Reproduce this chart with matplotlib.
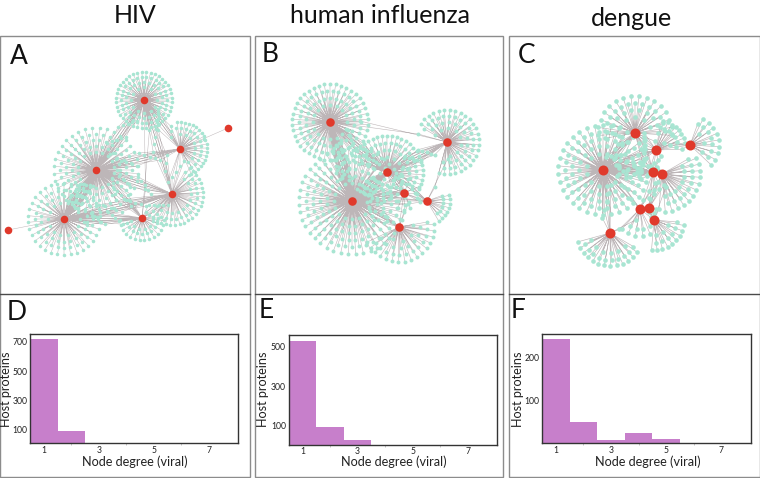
import matplotlib
matplotlib.use("Agg")
import matplotlib.pyplot as plt
from matplotlib.patches import Rectangle
import numpy as np

plt.rcParams["font.family"] = ["Lato", "DejaVu Sans"]

# histogram values
degrees = [1, 2, 3, 4, 5, 6, 7]
hiv_counts = [720, 95, 0, 0, 0, 0, 0]
flu_counts = [532, 90, 24, 2, 1, 1, 0]
dengue_counts = [242, 51, 10, 26, 12, 2, 1]

hist_ylims = [(10, 753), (2, 560), (1.5, 254)]
hist_yticks = [[100, 300, 500, 700], [100, 300, 500], [100, 200]]

# networks: hub position in picture pixels, then leaf rings for each hub.
# ring radii, leaf counts and arc spans are estimates; the leaves themselves
# are spaced evenly on those rings, they are not measured one by one
a_hub_x = [144, 180, 96, 172, 142, 64, 228, 8]
a_hub_y = [100, 149, 170, 194, 218, 219, 128, 230]
a_radii = [[28, 23, 18, 13], [27, 21, 15], [42, 36, 30, 24, 18], [31, 25, 19], [22, 16, 11], [36, 29, 23, 16], [], []]
a_counts = [[40, 30, 22, 12], [20, 13, 8], [36, 32, 28, 24, 18], [24, 18, 12], [14, 10, 6], [34, 28, 22, 14], [], []]
a_arcs = [(0, 360), (-70, 100), (0, 360), (-150, 60), (180, 360), (0, 360), (0, 0), (0, 0)]
a_bridges = [(0, 2, 12), (0, 1, 8), (0, 3, 8), (0, 4, 2), (1, 2, 10), (1, 3, 5), (2, 3, 10),
             (2, 4, 8), (2, 5, 22), (3, 5, 12), (3, 4, 6), (4, 5, 12), (1, 6, 1), (5, 7, 1)]

b_hub_x = [330, 447, 387, 352, 404, 427, 399]
b_hub_y = [122, 142, 172, 201, 193, 201, 227]
b_radii = [[38, 31, 24, 17], [32, 26, 20, 14], [36, 29, 22, 15], [53, 46, 39, 32, 25, 18], [16], [23, 16], [35, 28, 21, 14]]
b_counts = [[42, 34, 26, 16], [26, 20, 14, 8], [26, 20, 14, 8], [44, 40, 36, 30, 24, 16], [8], [8, 6], [16, 12, 8, 4]]
b_arcs = [(0, 360), (-110, 150), (-40, 165), (0, 360), (0, 360), (-65, 20), (200, 370)]
b_bridges = [(0, 3, 22), (0, 2, 10), (0, 1, 2), (1, 2, 12), (2, 3, 20), (2, 4, 8), (3, 4, 8),
             (3, 6, 8), (4, 5, 4), (4, 6, 3), (2, 5, 3), (1, 5, 2), (3, 5, 4)]

c_hub_x = [603, 635, 656, 690, 653, 662, 640, 649, 654, 610]
c_hub_y = [170, 133, 150, 145, 172, 174, 209, 208, 220, 233]
c_radii = [[45, 38, 31, 24, 17], [37, 30, 23, 16], [30, 23], [29, 22, 14], [14], [38, 30, 22], [27, 20], [], [30, 23, 15], [33, 27, 20]]
c_counts = [[34, 30, 24, 18, 12], [16, 14, 10, 6], [8, 6], [9, 7, 3], [6], [12, 10, 8], [5, 4], [], [9, 6, 3], [13, 10, 6]]
c_arcs = [(0, 360), (-10, 190), (10, 80), (-50, 70), (120, 220), (-90, 30), (220, 300), (0, 0), (260, 355), (190, 330)]
c_bridges = [(0, 1, 8), (0, 4, 8), (0, 2, 6), (1, 2, 6), (1, 4, 5), (2, 4, 4), (2, 3, 4), (4, 5, 3), (0, 5, 4),
             (5, 7, 4), (4, 7, 3), (0, 6, 3), (0, 9, 5), (6, 8, 3), (7, 8, 3), (6, 9, 2), (5, 8, 2), (4, 6, 3)]

titles = ["HIV", "human influenza", "dengue"]
title_x = [135, 380, 631]
title_y = [15, 15, 18]
letters = ["A", "B", "C", "D", "E", "F"]
letter_x = [10, 262, 518, 7, 259, 511]
letter_y = [56, 54, 55, 313, 311, 310]

LEAF = "#A8E5D2"
HUB = "#E0392B"
EDGE = "#BDB6B8"
BAR = "#C77FCB"


def draw_network(ax, hub_x, hub_y, radii, counts, arcs, bridges, leaf_size, hub_size, lw):
    seg_x, seg_y, leaf_x, leaf_y = [], [], [], []
    for i in range(len(hub_x)):
        start, end = arcs[i]
        for k, (r, n) in enumerate(zip(radii[i], counts[i])):
            step = (end - start) / n
            ang = np.radians(start + step * (np.arange(n) + 0.5 * (1 + k % 2)))
            xs = hub_x[i] + r * np.cos(ang)
            ys = hub_y[i] - r * np.sin(ang)
            leaf_x.extend(xs)
            leaf_y.extend(ys)
            for x, y in zip(xs, ys):
                seg_x += [hub_x[i], x, np.nan]
                seg_y += [hub_y[i], y, np.nan]

    # proteins shared by two hubs sit between them
    for a, b, n in bridges:
        dx, dy = hub_x[b] - hub_x[a], hub_y[b] - hub_y[a]
        length = np.hypot(dx, dy)
        for k in range(n):
            t = 0.5 if n == 1 else 0.25 + 0.5 * k / (n - 1)
            off = 0 if n == 1 else (k % 5 - 2) * 3
            x = hub_x[a] + t * dx - off * dy / length
            y = hub_y[a] + t * dy + off * dx / length
            leaf_x.append(x)
            leaf_y.append(y)
            seg_x += [hub_x[a], x, hub_x[b], np.nan]
            seg_y += [hub_y[a], y, hub_y[b], np.nan]

    ax.plot(seg_x, seg_y, color=EDGE, lw=lw, zorder=2)
    ax.scatter(leaf_x, leaf_y, s=leaf_size, color=LEAF, linewidths=0, zorder=3)
    ax.scatter(hub_x, hub_y, s=hub_size, color=HUB, linewidths=0, zorder=4)


fig = plt.figure(figsize=(7.6, 4.78), dpi=100)

# overlay in picture pixels for frames, networks and big letters
bg = fig.add_axes([0, 0, 1, 1])
bg.set_xlim(0, 760)
bg.set_ylim(478, 0)
bg.axis("off")

for x0, x1 in [(0, 249.5), (255, 503), (509, 760)]:
    bg.add_patch(Rectangle((x0, 36), x1 - x0, 441, fill=False, ec="#8C8C8C", lw=1))
    bg.plot([x0, x1], [294, 294], color="#4A4A4A", lw=1)

draw_network(bg, a_hub_x, a_hub_y, a_radii, a_counts, a_arcs, a_bridges, 6.5, 30, 0.35)
draw_network(bg, b_hub_x, b_hub_y, b_radii, b_counts, b_arcs, b_bridges, 8, 38, 0.4)
draw_network(bg, c_hub_x, c_hub_y, c_radii, c_counts, c_arcs, c_bridges, 11, 52, 0.45)

for t, x, y in zip(titles, title_x, title_y):
    bg.text(x, y, t, fontsize=18, ha="center", va="center", color="#111111")
for t, x, y in zip(letters, letter_x, letter_y):
    bg.text(x, y, t, fontsize=19, ha="left", va="center", color="#111111")

# histograms
hist_counts = [hiv_counts, flu_counts, dengue_counts]
boxes = [(30, 238, 334, 443), (288.7, 497, 335, 444.7), (542, 750.7, 333.7, 443.3)]
ylabel_x = [6.5, 262.7, 518]
for counts, box, ylim, yticks, lab_x in zip(hist_counts, boxes, hist_ylims, hist_yticks, ylabel_x):
    x0, x1, top, bottom = box
    ax = fig.add_axes([x0 / 760, 1 - bottom / 478, (x1 - x0) / 760, (bottom - top) / 478])
    ax.bar(degrees, counts, width=1, color=BAR)
    ax.set_xlim(0.5, 8.06)
    ax.set_ylim(*ylim)
    ax.set_xticks([1, 3, 5, 7])
    ax.set_xticks([2, 4, 6], minor=True)
    ax.set_yticks(yticks)
    ax.tick_params(labelsize=6.2, length=0, pad=2, colors="#222222")
    ax.tick_params(axis="x", which="minor", length=1.2, width=0.4, color="#999999")
    for s in ax.spines.values():
        s.set_color("#333333")
        s.set_linewidth(1)
    bg.text((x0 + x1) / 2 + 1, 462, "Node degree (viral)", fontsize=9.1, ha="center", va="center", color="#222222")
    bg.text(lab_x, 389, "Host proteins", fontsize=9.1, rotation=90, ha="center", va="center", color="#222222")

fig.savefig("out.png", dpi=100)
